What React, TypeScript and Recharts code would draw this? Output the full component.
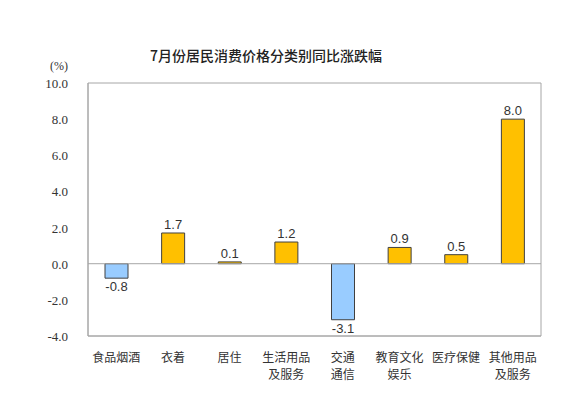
import React from 'react';
import { BarChart, Bar, XAxis, YAxis, Cell, LabelList, ReferenceLine, ReferenceArea } from 'recharts';

const categories = ['食品烟酒', '衣着', '居住', '生活用品\n及服务', '交通\n通信', '教育文化\n娱乐', '医疗保健', '其他用品\n及服务'];
const changes = [-0.8, 1.7, 0.1, 1.2, -3.1, 0.9, 0.5, 8.0];
const yTicks = [-4, -2, 0, 2, 4, 6, 8, 10];

const chartData = categories.map((name, i) => ({ name, value: changes[i] }));

const CategoryTick = (props: any) => {
    const { x, y, payload } = props;
    const lines = String(payload.value).split('\n');
    return (
        <g transform={`translate(${x},${y})`}>
            {lines.map((line, i) => (
                <text
                    key={i}
                    x={0}
                    y={i * 17}
                    dy={18}
                    textAnchor="middle"
                    fill="#333"
                    fontSize={12}
                    fontFamily="'Noto Sans CJK SC', sans-serif"
                >
                    {line}
                </text>
            ))}
        </g>
    );
};

const ValueTick = (props: any) => {
    const { x, y, payload } = props;
    return (
        <text x={x} y={y} dy={5} textAnchor="end" fill="#333" fontSize={13} fontFamily="'Liberation Serif', serif">
            {Number(payload.value).toFixed(1)}
        </text>
    );
};

const ValueLabel = (props: any) => {
    const { x, y, width, height, value } = props;
    const top = Math.min(y, y + height);
    const bottom = Math.max(y, y + height);
    const cx = x + width / 2;
    const ty = value < 0 ? bottom + 13 : top - 4;
    return (
        <text x={cx} y={ty} textAnchor="middle" fill="#333" fontSize={13} fontFamily="'Liberation Sans', Arial, sans-serif">
            {value.toFixed(1)}
        </text>
    );
};

const App: React.FC = () => {
    return (
        <div style={{ position: 'absolute', left: 0, top: 0, width: 584, height: 399, background: '#fff' }}>
            <div
                style={{
                    position: 'absolute',
                    top: 45,
                    left: 0,
                    width: 532,
                    textAlign: 'center',
                    fontFamily: "'Noto Sans CJK SC', sans-serif",
                    fontSize: 14,
                    fontWeight: 500,
                    color: '#222',
                }}
            >
                7月份居民消费价格分类别同比涨跌幅
            </div>
            <div
                style={{
                    position: 'absolute',
                    top: 59,
                    left: 50,
                    fontFamily: "'Liberation Serif', serif",
                    fontSize: 12,
                    color: '#333',
                }}
            >
                (%)
            </div>
            <BarChart
                width={584}
                height={399}
                data={chartData}
                margin={{ top: 83, right: 43, bottom: 33, left: 0 }}
                barSize={23}
            >
                <ReferenceArea y1={-4} y2={10} fill="none" stroke="#a6a6a6" strokeWidth={1} ifOverflow="visible" />
                <XAxis
                    dataKey="name"
                    interval={0}
                    tick={<CategoryTick />}
                    tickLine={false}
                    axisLine={{ stroke: '#a6a6a6' }}
                />
                <YAxis
                    width={88}
                    domain={[-4, 10]}
                    ticks={yTicks}
                    tickLine={false}
                    tickMargin={14}
                    axisLine={{ stroke: '#a6a6a6' }}
                    tick={<ValueTick />}
                />
                <ReferenceLine y={0} stroke="#a6a6a6" strokeWidth={1} />
                <Bar dataKey="value" isAnimationActive={false} stroke="#404040" strokeWidth={1}>
                    {chartData.map((d, i) => (
                        <Cell key={i} fill={d.value < 0 ? '#99CCFF' : '#FFC000'} />
                    ))}
                    <LabelList dataKey="value" content={<ValueLabel />} />
                </Bar>
            </BarChart>
        </div>
    );
};

export default App;
